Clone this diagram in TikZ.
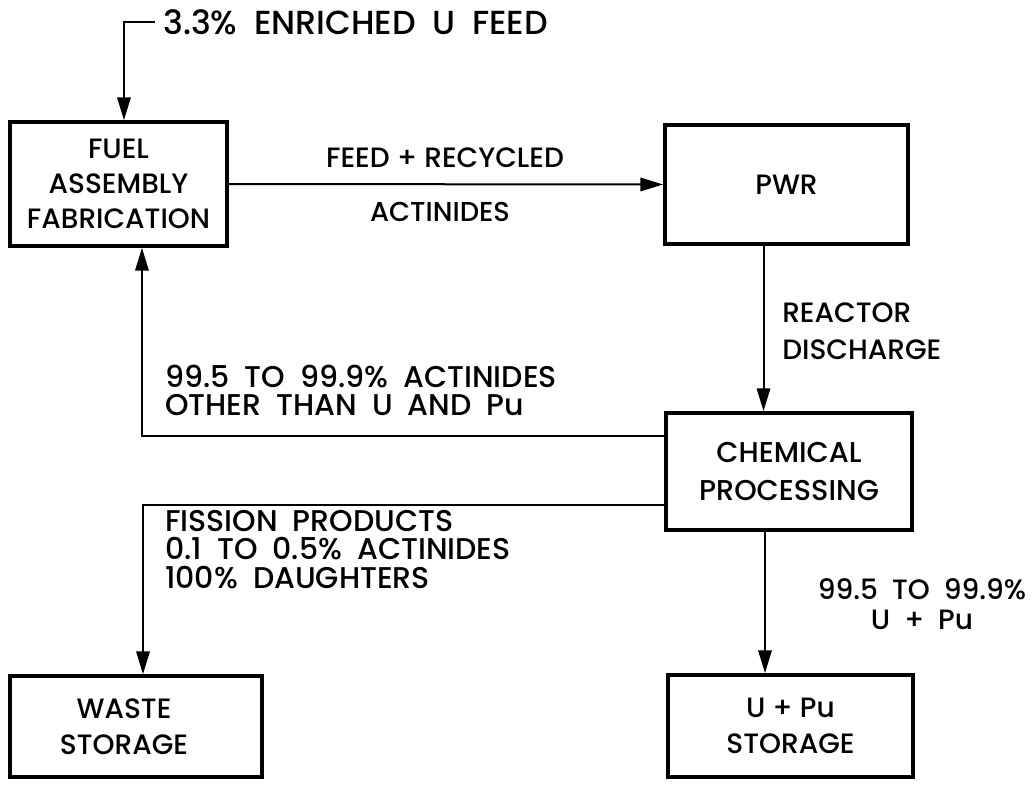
\documentclass[tikz,border=0pt]{standalone}
\usepackage{fontspec}
\setmainfont{Poppins Medium}
\usetikzlibrary{arrows.meta}
\newcommand{\wideSp}{\spaceskip 0.5em plus 0.1em\relax}
\begin{document}
\begin{tikzpicture}[x=0.75pt,y=-0.75pt,
  box/.style={draw,line width=2.8pt,inner sep=0pt,align=center,
    font=\fontsize{21}{26}\selectfont},
  lbl/.style={inner sep=0pt,font=\fontsize{22.5}{21.5}\selectfont\wideSp},
  conn/.style={line width=1.5pt},
  arr/.style={conn,-{Triangle[length=17pt,width=10pt]}}]
\useasboundingbox (0,0) rectangle (1036,785);
% boxes
\node[box,minimum width=162.75pt,minimum height=93pt] (fuel) at (118.5,184) {FUEL\\ASSEMBLY\\FABRICATION};
\node[box,minimum width=182.25pt,minimum height=89.25pt] (pwr) at (786.5,184.5) {PWR};
\node[box,minimum width=184.5pt,minimum height=87.75pt,font=\fontsize{21.5}{28}\selectfont] (chem) at (789,471.5) {CHEMICAL\\PROCESSING};
\node[box,minimum width=189pt,minimum height=75.75pt,text width=150pt,font=\fontsize{21}{27}\selectfont] (waste) at (136,726.5) {\raisebox{-4pt}{\hspace*{-18pt}WASTE}\\\raisebox{-4pt}{\hspace*{-18pt}STORAGE}};
\node[box,minimum width=183.75pt,minimum height=76.5pt,font=\fontsize{21}{27}\selectfont] (upu) at (790.5,726) {\raisebox{-4pt}{U + Pu}\\\raisebox{-4pt}{STORAGE}};
% labels
\node[lbl,anchor=west,font=\fontsize{25}{25}\selectfont\wideSp] (feedlbl) at (163,22) {3.3\% ENRICHED U FEED};
\node[lbl,font=\fontsize{21}{21}\selectfont] (fr) at (445,158) {FEED + RECYCLED};
\node[lbl,font=\fontsize{20.5}{21}\selectfont] (act) at (440,212) {ACTINIDES};
\node[lbl,anchor=west,align=left,font=\fontsize{21}{27.5}\selectfont] (rd) at (782,331.5) {REACTOR\\DISCHARGE};
\node[lbl,anchor=west,align=left] (rec) at (165,390.5) {99.5 TO 99.9\% ACTINIDES\\OTHER THAN U AND Pu};
\node[lbl,anchor=west,align=left] (fis) at (165,549.5) {FISSION PRODUCTS\\0.1 TO 0.5\% ACTINIDES\\100\% DAUGHTERS};
\node[lbl,align=center,font=\fontsize{21}{22}\selectfont\wideSp] (ul) at (922,604) {99.5 TO 99.9\%\\U + Pu};
% connectors
\coordinate (f1) at ([xshift=-6pt]feedlbl.west);
\draw[arr] (f1) -| ([xshift=4.1pt]fuel.north);
\draw[arr] (fuel.east) -- (pwr.west);
\draw[arr] ([xshift=-17.25pt]pwr.south) -- ([xshift=-17.25pt]pwr.south |- chem.north);
\draw[arr] ([yshift=26.6pt]chem.west) -| ([xshift=17.6pt]fuel.south);
\draw[arr] ([yshift=-25.1pt]chem.west) -| ([xshift=5.25pt]waste.north);
\draw[arr] ([xshift=-18pt]chem.south) -- ([xshift=-18pt]chem.south |- upu.north);
\end{tikzpicture}
\end{document}
